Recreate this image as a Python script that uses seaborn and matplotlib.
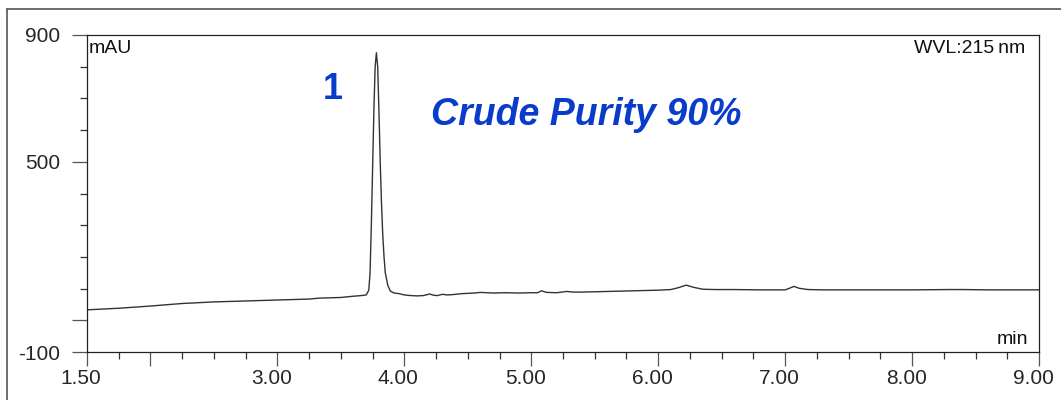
import matplotlib
matplotlib.use("Agg")
import matplotlib.pyplot as plt
from matplotlib.lines import Line2D
from matplotlib.ticker import FixedLocator, MultipleLocator
from matplotlib.transforms import ScaledTranslation
import pandas as pd
import seaborn as sns

# Chromatogram trace: retention time (min) and absorbance (mAU)
time_min = [
    1.50, 1.75, 2.00, 2.25, 2.50, 2.75, 3.00, 3.25, 3.33, 3.50, 3.60, 3.66,
    3.70, 3.72, 3.73, 3.74, 3.75, 3.76, 3.77, 3.78, 3.79, 3.80, 3.81, 3.82,
    3.83, 3.84, 3.85, 3.87, 3.89, 3.92, 3.96, 4.00, 4.05, 4.10, 4.15, 4.20,
    4.23, 4.26, 4.30, 4.34, 4.38, 4.45, 4.55, 4.60, 4.70, 4.80, 4.90, 5.00,
    5.05, 5.08, 5.12, 5.20, 5.28, 5.33, 5.40, 5.60, 5.80, 6.00, 6.10, 6.16,
    6.22, 6.28, 6.35, 6.45, 6.60, 6.80, 7.00, 7.04, 7.07, 7.11, 7.18, 7.30,
    7.60, 8.00, 8.30, 8.40, 8.60, 9.00,
]
absorbance_mau = [
    33, 38, 45, 53, 58, 61, 64, 67, 70, 72, 76, 78,
    80, 95, 150, 300, 480, 660, 800, 844, 800, 660, 500, 370,
    270, 200, 150, 110, 92, 86, 84, 80, 78, 77, 78, 83,
    79, 78, 82, 80, 81, 84, 86, 88, 86, 87, 86, 87,
    87, 93, 88, 87, 91, 89, 89, 91, 93, 95, 97, 103,
    111, 104, 98, 97, 97, 96, 96, 102, 107, 101, 97, 96,
    96, 96, 97, 97, 96, 96,
]

x_major = [1.5, 2.0, 3.0, 4.0, 5.0, 6.0, 7.0, 8.0, 9.0]
x_major_labels = ["1.50", "", "3.00", "4.00", "5.00", "6.00", "7.00", "8.00", "9.00"]
y_major = [-100, 0, 500, 900]
y_major_labels = ["-100", "", "500", "900"]

sns.set_style("white")
plt.rcParams["font.family"] = ["Liberation Sans", "DejaVu Sans"]

fig = plt.figure(figsize=(10.61, 4.0), dpi=100)
ax = fig.add_axes([87 / 1061, 1 - 352 / 400, (1039 - 87) / 1061, (352 - 35) / 400])

df = pd.DataFrame({"time": time_min, "mAU": absorbance_mau})
sns.lineplot(data=df, x="time", y="mAU", ax=ax, color="#333333", linewidth=1.0,
             estimator=None, sort=False)

ax.set_xlim(1.5, 9.0)
ax.set_ylim(-100, 900)
ax.set_xlabel("")
ax.set_ylabel("")

ax.xaxis.set_major_locator(FixedLocator(x_major))
ax.set_xticklabels(x_major_labels)
ax.xaxis.set_minor_locator(MultipleLocator(0.25))
ax.yaxis.set_major_locator(FixedLocator(y_major))
ax.set_yticklabels(y_major_labels)
ax.yaxis.set_minor_locator(MultipleLocator(100))

ax.tick_params(axis="x", which="major", direction="out", length=10, width=0.9,
               color="#555555", labelsize=15, pad=2, bottom=True)
ax.tick_params(axis="x", which="minor", direction="out", length=5, width=0.9,
               color="#333333", bottom=True)
ax.tick_params(axis="y", which="major", direction="out", length=11, width=0.9,
               color="#555555", labelsize=15, pad=8, left=True)
ax.tick_params(axis="y", which="minor", direction="out", length=5, width=0.9,
               color="#333333", left=True)

# x tick labels sit slightly left of their ticks
shift = ScaledTranslation(-6 / 100, 0, fig.dpi_scale_trans)
for lbl in ax.get_xticklabels():
    lbl.set_transform(lbl.get_transform() + shift)

for side in ["left", "right", "top", "bottom"]:
    ax.spines[side].set_visible(True)
    ax.spines[side].set_color("#222222")
    ax.spines[side].set_linewidth(0.9)

ax.text(0.002, 0.985, "mAU", transform=ax.transAxes, ha="left", va="top",
        fontsize=14, color="#111111")
ax.text(0.986, 0.985, "WVL:215\u2009nm", transform=ax.transAxes, ha="right", va="top",
        fontsize=14, color="#111111")
ax.text(0.989, 0.012, "min", transform=ax.transAxes, ha="right", va="bottom",
        fontsize=14, color="#111111")

ax.text(3.437, 698, "1", ha="center", va="baseline", fontsize=26,
        fontweight="bold", color="#0a3ccc")
ax.text(4.21, 616, "Crude Purity 90%", ha="left", va="baseline", fontsize=27,
        fontweight="bold", fontstyle="italic", color="#0a3ccc")

# outer frame lines
fig.add_artist(Line2D([7 / 1061, 7 / 1061], [0, 1 - 9 / 400], transform=fig.transFigure,
                      color="#555555", linewidth=1.2))
fig.add_artist(Line2D([7 / 1061, 1], [1 - 9 / 400, 1 - 9 / 400], transform=fig.transFigure,
                      color="#555555", linewidth=1.2))

fig.savefig("out.png", dpi=100)
